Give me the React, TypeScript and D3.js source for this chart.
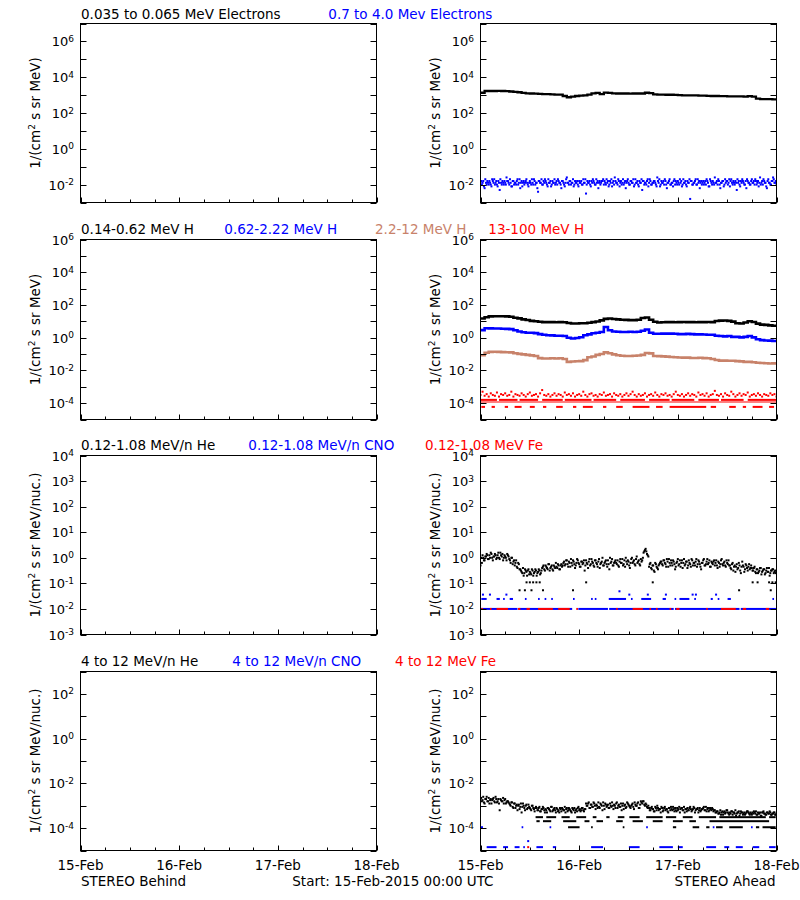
import React from "react";
import * as d3 from "d3";

const FONT = "DejaVu Sans";
const START = Date.UTC(2015, 1, 15);
const END = Date.UTC(2015, 1, 18);
const HOUR = 3600 * 1000;

const BLACK = "#000000";
const BLUE = "#0000ff";
const BROWN = "#c8826a";
const RED = "#ff0000";

// ---- text ----
const xTickLabels = ["15-Feb", "16-Feb", "17-Feb", "18-Feb"];
const row1Titles = ["0.035 to 0.065 MeV Electrons", "0.7 to 4.0 Mev Electrons"];
const row2Titles = ["0.14-0.62 MeV H", "0.62-2.22 MeV H", "2.2-12 MeV H", "13-100 MeV H"];
const row3Titles = ["0.12-1.08 MeV/n He", "0.12-1.08 MeV/n CNO", "0.12-1.08 MeV Fe"];
const row4Titles = ["4 to 12 MeV/n He", "4 to 12 MeV/n CNO", "4 to 12 MeV Fe"];
const footer = ["STEREO Behind", "Start: 15-Feb-2015 00:00 UTC", "STEREO Ahead"];

// ---- data (log10 flux) ----
// 0.035-0.065 MeV electrons, hourly
const eLowLog = [
  3.13, 3.23, 3.23, 3.23, 3.24, 3.23, 3.22, 3.2, 3.18, 3.16,
  3.12, 3.1, 3.09, 3.08, 3.07, 3.06, 3.05, 3.04, 3.03, 3.03,
  2.95, 2.88, 2.92, 2.95, 2.97, 2.99, 3.03, 3.1, 3.12, 3.06,
  3.14, 3.12, 3.1, 3.09, 3.09, 3.09, 3.08, 3.09, 3.09, 3.09,
  3.13, 3.11, 3.04, 3.03, 3.03, 3.02, 3.02, 3.01, 3.0, 2.99,
  2.99, 2.98, 2.98, 2.97, 2.97, 2.96, 2.95, 2.95, 2.94, 2.94,
  2.93, 2.93, 2.93, 2.93, 2.92, 2.94, 2.92, 2.8, 2.78, 2.78,
  2.77, 2.76, 2.76,
];
// 0.7-4.0 MeV electrons, 20-minute samples (A at :00, B offset 10 min)
const eHighLogA = [
  -1.9, -2.0, -1.8, -2.2, -1.9, -1.8, -2.0, -1.9, -2.1, -1.8, -1.7, -1.9, -2.0, -1.8, -2.3, -1.9, -1.8, -2.0,
  -1.9, -1.6, -1.8, -2.0, -1.9, -2.1, -1.8, -1.9, -2.0, -1.7, -1.9, -2.2, -1.8, -1.9, -2.0, -1.8, -1.9, -2.1,
  -1.8, -2.0, -1.9, -1.7, -2.0, -1.9, -2.4, -1.8, -1.9, -2.0, -1.8, -1.7, -1.9, -2.1, -1.9, -1.8, -2.0, -1.9,
  -1.7, -1.9, -2.0, -1.8, -1.9, -2.2, -1.8, -2.0, -1.9, -1.6, -1.9, -1.8, -2.0, -1.9, -2.1, -1.8, -1.9, -2.0,
  -1.8, -1.9, -2.0, -1.7, -1.9, -2.5, -1.8, -1.9, -2.0, -1.8, -1.7, -1.9, -2.0, -1.9, -2.2, -1.8, -1.9, -1.8,
  -2.0, -1.9, -1.7, -1.8, -2.0, -1.9, -2.1, -1.8, -1.6, -1.9, -2.0, -1.8, -1.9, -2.0, -1.7, -1.9, -2.2, -1.8,
  -1.9, -2.0, -1.8, -1.9, -2.1, -1.7, -1.9, -2.0, -1.8, -1.9, -2.3, -1.8, -1.9, -2.0, -1.7, -1.9, -1.8, -2.0,
  -1.9, -1.8, -2.0, -1.6, -1.9, -2.1, -1.8, -1.9, -2.0, -1.8, -2.2, -1.9, -1.7, -2.0, -1.9, -1.8, -2.0, -1.9,
  -1.8, -2.0, -1.9, -2.1, -1.7, -1.9, -2.0, -1.8, -1.9, -2.8, -1.8, -2.0, -1.9, -1.7, -2.0, -1.9, -2.2, -1.8,
  -1.9, -2.0, -1.8, -1.7, -1.9, -2.1, -1.8, -2.0, -1.9, -1.6, -1.9, -2.0, -1.8, -2.2, -1.9, -1.8, -2.0, -1.9,
  -1.8, -1.9, -2.1, -1.7, -2.0, -1.9, -1.8, -2.3, -1.9, -2.0, -1.8, -1.7, -1.9, -2.0, -2.2, -1.8, -1.9, -2.0,
  -1.7, -1.9, -2.0, -1.8, -1.9, -2.1, -1.6, -1.9, -2.0, -1.8, -1.9, -2.2, -1.7, -1.9, -2.0, -1.8, -1.7, -1.9,
  -2.0,
];
const eHighLogB = [
  -1.8, -1.9, -2.1, -1.7, -2.0, -1.9, -1.8, -2.0, -1.7, -1.9, -2.0, -1.8, -2.1, -1.9, -1.7, -2.0, -1.9, -1.8,
  -2.0, -1.8, -1.9, -1.7, -2.1, -1.8, -2.0, -1.9, -1.8, -2.0, -1.7, -1.9, -2.1, -1.8, -1.9, -1.7, -2.0, -1.9,
  -1.9, -1.7, -2.0, -1.8, -1.9, -2.2, -1.8, -1.9, -1.7, -2.0, -1.9, -1.8, -2.0, -1.7, -1.9, -2.1, -1.8, -1.9,
  -2.0, -1.8, -1.7, -1.9, -2.0, -1.8, -1.9, -2.1, -1.7, -1.9, -2.0, -1.8, -1.9, -1.7, -2.0, -1.9, -1.8, -2.1,
  -1.9, -1.8, -2.0, -1.9, -1.7, -2.0, -1.9, -1.8, -2.1, -1.9, -1.8, -2.0, -1.7, -1.8, -1.9, -2.0, -1.8, -1.7,
  -1.8, -2.0, -1.9, -2.1, -1.8, -1.7, -1.9, -2.0, -1.8, -1.9, -1.7, -2.1, -1.8, -1.9, -2.0, -1.8, -1.9, -1.7,
  -2.0, -1.8, -1.9, -1.7, -2.0, -1.9, -1.8, -2.1, -1.9, -1.7, -1.8, -2.0, -1.9, -1.8, -2.1, -1.7, -2.0, -1.9,
  -1.8, -1.9, -2.1, -1.8, -1.7, -2.0, -1.9, -1.8, -1.7, -2.0, -1.9, -1.8, -2.0, -1.9, -2.1, -1.7, -1.8, -2.0,
  -1.9, -1.7, -1.8, -2.0, -1.9, -1.8, -2.1, -1.9, -1.7, -1.8, -2.0, -1.9, -1.8, -2.0, -1.7, -1.8, -1.9, -2.0,
  -1.8, -1.9, -2.0, -1.8, -2.1, -1.7, -1.9, -1.8, -2.0, -1.9, -1.8, -1.7, -2.0, -1.9, -1.8, -2.1, -1.7, -1.8,
  -2.0, -1.7, -1.8, -1.9, -1.8, -2.0, -1.9, -1.7, -1.8, -2.1, -1.9, -1.8, -2.0, -1.8, -1.7, -1.9, -2.0, -1.8,
  -1.9, -1.8, -1.7, -2.0, -1.8, -1.9, -2.0, -1.8, -1.7, -1.9, -2.1, -1.8, -1.9, -2.0, -1.8, -1.6, -1.9, -1.8,
];

// protons, hourly
const hLowLog = [
  1.17, 1.25, 1.3, 1.31, 1.31, 1.31, 1.3, 1.28, 1.22, 1.18,
  1.12, 1.08, 1.03, 1.0, 0.97, 0.95, 0.95, 0.95, 0.94, 0.95,
  0.94, 0.9, 0.87, 0.87, 0.88, 0.88, 0.91, 0.95, 0.99, 1.06,
  1.15, 1.17, 1.14, 1.12, 1.1, 1.09, 1.07, 1.07, 1.1, 1.2,
  1.23, 1.1, 0.97, 0.93, 0.94, 0.95, 0.95, 0.94, 0.95, 0.96,
  0.95, 0.95, 0.94, 0.95, 0.95, 0.96, 0.95, 1.02, 1.04, 1.05,
  1.03, 0.98, 0.88, 0.87, 0.93, 1.0, 0.96, 0.86, 0.8, 0.78,
  0.75, 0.73, 0.71,
];
const hMidLog = [
  0.46, 0.58, 0.57, 0.56, 0.56, 0.55, 0.54, 0.52, 0.45, 0.38,
  0.33, 0.3, 0.3, 0.28, 0.22, 0.18, 0.15, 0.14, 0.12, 0.12,
  0.1, 0.0, -0.05, -0.02, 0.03, 0.15, 0.2, 0.27, 0.3, 0.35,
  0.65, 0.45, 0.38, 0.36, 0.35, 0.35, 0.36, 0.35, 0.36, 0.42,
  0.5, 0.3, 0.24, 0.24, 0.25, 0.25, 0.25, 0.24, 0.22, 0.22,
  0.23, 0.22, 0.2, 0.2, 0.19, 0.18, 0.18, 0.12, 0.1, 0.08,
  0.1, 0.05, 0.05, 0.02, 0.05, 0.1, 0.02, -0.1, -0.15, -0.17,
  -0.18, -0.2, -0.2,
];
const hHighLog = [
  -1.07, -0.92, -0.87, -0.86, -0.87, -0.88, -0.89, -0.9, -0.95, -0.99,
  -1.02, -1.05, -1.08, -1.12, -1.25, -1.27, -1.27, -1.26, -1.27, -1.26,
  -1.3, -1.48, -1.46, -1.44, -1.43, -1.37, -1.2, -1.15, -1.05, -1.0,
  -0.9, -0.95, -1.02, -1.07, -1.1, -1.12, -1.12, -1.1, -1.09, -1.05,
  -0.94, -0.96, -1.12, -1.13, -1.14, -1.16, -1.18, -1.2, -1.21, -1.22,
  -1.22, -1.24, -1.24, -1.23, -1.25, -1.26, -1.3, -1.36, -1.4, -1.4,
  -1.41, -1.41, -1.43, -1.45, -1.48, -1.48, -1.5, -1.53, -1.55, -1.56,
  -1.58, -1.57, -1.55,
];
// 13-100 MeV H, 30-minute scatter
const hTopLog = [
  -3.5, -3.3, -3.55, -3.45, -3.6, -3.4, -3.5, -3.55, -3.35, -3.6, -3.45, -3.5, -3.4, -3.55, -3.5, -3.3, -3.6, -3.45, -3.5, -3.55,
  -3.4, -3.5, -3.6, -3.45, -3.35, -3.55, -3.5, -3.45, -3.6, -3.4, -3.2, -3.5, -3.55, -3.45, -3.6, -3.5, -3.4, -3.55, -3.45, -3.5,
  -3.6, -3.35, -3.5, -3.45, -3.55, -3.4, -3.6, -3.5, -3.45, -3.55, -3.3, -3.5, -3.6, -3.45, -3.4, -3.55, -3.5, -3.6, -3.45, -3.5,
  -3.35, -3.55, -3.5, -3.45, -3.6, -3.4, -3.5, -3.55, -3.45, -3.6, -3.5, -3.4, -3.55, -3.45, -3.3, -3.5, -3.6, -3.45, -3.55, -3.5,
  -3.4, -3.6, -3.5, -3.45, -3.55, -3.35, -3.5, -3.6, -3.45, -3.5, -3.4, -3.55, -3.5, -3.6, -3.45, -3.3, -3.5, -3.55, -3.45, -3.6,
  -3.5, -3.4, -3.55, -3.45, -3.5, -3.6, -3.35, -3.5, -3.45, -3.55, -3.4, -3.6, -3.5, -3.45, -3.25, -3.5, -3.55, -3.45, -3.6, -3.4,
  -3.5, -3.55, -3.3, -3.45, -3.6, -3.5, -3.4, -3.55, -3.45, -3.5, -3.35, -3.6, -3.5, -3.45, -3.55, -3.4, -3.5, -3.6, -3.45, -3.5,
  -3.55, -3.4, -3.5, -3.45, -3.6,
];
// 13-100 MeV H quantized rows: [startHour, endHour]
const hTopRowLevels = [-3.8, -3.93, -4.23];
const hTopRow1 = [[0, 4], [4.5, 9], [9.5, 14], [15, 20], [20.5, 27], [27.5, 33], [34, 40], [41, 46], [46.5, 52], [53, 58], [58.5, 64], [65, 72]];
const hTopRow2 = [[0, 72]];
const hTopRow3 = [[0.2, 1.1], [2.7, 3.5], [5.9, 6.7], [8.3, 10], [12, 13.2], [15.2, 16], [18.4, 20], [22.5, 23.3], [24.9, 27.3], [29.8, 30.6], [33, 34.6], [37, 41.1], [42.7, 44.3], [46, 54.9], [56, 57.3], [60.5, 62.1], [63.8, 64.6], [66.2, 68.6], [70.2, 71.4]];

// 0.12-1.08 MeV/n He, 20-minute samples (A at :00, B offset 10 min)
const heLowLogA = [
  -0.3, -0.2, 0.0, -0.1, 0.05, 0.1, -0.05, 0.0, 0.15, -0.1, 0.05, 0.1, 0.0, 0.2, -0.05, 0.1, 0.15, 0.0, 0.05, -0.1, 0.1,
  -0.05, -0.2, 0.0, -0.15, -0.3, -0.1, -0.4, -0.25,
  -0.45, -0.55, -0.4, -0.6, -0.5, -0.7, -0.45, -0.55, -0.65, -0.5, -0.6, -0.45, -0.7, -0.55, -0.5, -0.6,
  -0.4, -0.3, -0.5, -0.35, -0.45, -0.25, -0.4, -0.3, -0.5, -0.35, -0.2, -0.4, -0.3, -0.45, -0.25,
  -0.3, -0.15, -0.25, -0.1, -0.35, -0.2, -0.05, -0.3, -0.15, -0.4, -0.2, -0.1, -0.25, -0.35, -0.15, -0.2, -0.5, -0.1, -0.25, -0.15,
  -0.3, -0.05, -0.2, -0.35, -0.1, -0.25, -0.15, -0.4, -0.2, 0.0, -0.3, -0.15, -0.25, -0.1, -0.45, -0.2, -0.05, -0.3, -0.15, -0.2,
  -0.1, -0.35, -0.05, -0.2, -0.3, -0.1, 0.0, -0.25, -0.15, -0.4, -0.05, -0.2, -0.1, -0.3, 0.05, -0.15, -0.25, -0.05, -0.1,
  0.2, 0.3, 0.25, 0.1,
  -0.35, -0.2, -0.45, -0.3, -0.55, -0.25, -0.4, -0.3, -0.2,
  -0.15, -0.3, -0.1, -0.25, -0.05, -0.35, -0.2, -0.1, -0.3, -0.15, -0.45, -0.2, -0.05, -0.25, -0.35, -0.1, -0.2, -0.3, -0.15, -0.4,
  -0.1, -0.25, -0.05, -0.3, -0.2, -0.15, -0.35, -0.1, -0.25, -0.45, -0.2, -0.05, -0.3, -0.15, -0.25, -0.1, -0.35, -0.2, -0.15, -0.3,
  -0.1, -0.4, -0.2, -0.25, -0.05, -0.3, -0.15, -0.35, -0.2, -0.1,
  -0.3, -0.45, -0.2, -0.35, -0.55, -0.25, -0.4, -0.3, -0.6, -0.15, -0.35, -0.45, -0.3, -0.5, -0.25, -0.4,
  -0.4, -0.5, -0.35, -0.6, -0.45, -0.55, -0.4, -0.65, -0.5, -0.45, -0.6, -0.4, -0.55, -0.7, -0.5, -0.45, -0.6, -0.5, -0.55,
];
const heLowLogB = [
  0.0, 0.1, -0.1, 0.05, 0.15, -0.05, 0.1, 0.2, 0.0, 0.05, 0.15, -0.05, 0.1, 0.0, 0.2, 0.05, -0.1, 0.1, 0.0, 0.15, 0.05,
  -0.1, 0.0, -0.25, -0.1, -0.2, -0.35, -0.2, -0.45,
  -0.5, -0.6, -0.7, -0.45, -0.55, -0.5, -0.65, -0.6, -0.45, -0.7, -0.55, -0.5, -0.6, -0.45, -0.65, -0.5,
  -0.35, -0.45, -0.3, -0.4, -0.25, -0.5, -0.35, -0.45, -0.3, -0.4, -0.35, -0.25, -0.45, -0.3, -0.35,
  -0.2, -0.3, -0.1, -0.25, -0.15, -0.35, -0.2, -0.1, -0.25, -0.3, -0.05, -0.2, -0.35, -0.15, -0.25, -0.1, -0.3, -0.2, -0.4, -0.05,
  -0.25, -0.15, -0.3, -0.1, -0.2, -0.35, -0.05, -0.25, -0.15, -0.3, -0.2, -0.1, -0.35, -0.25, 0.0, -0.15, -0.3, -0.2, -0.1, -0.25,
  -0.3, -0.15, -0.2, -0.05, -0.25, -0.35, -0.15, -0.1, -0.3, -0.2, 0.0, -0.15, -0.25, -0.05, -0.2, -0.1, -0.3, -0.15, 0.0,
  0.25, 0.35, 0.15, 0.05,
  -0.25, -0.4, -0.3, -0.5, -0.2, -0.35, -0.45, -0.25, -0.15,
  -0.25, -0.1, -0.2, -0.35, -0.15, -0.05, -0.3, -0.2, -0.1, -0.25, -0.35, -0.15, -0.3, -0.1, -0.2, -0.4, -0.05, -0.25, -0.15, -0.3,
  -0.2, -0.35, -0.1, -0.2, -0.3, -0.05, -0.25, -0.15, -0.35, -0.2, -0.1, -0.3, -0.25, -0.05, -0.2, -0.35, -0.15, -0.25, -0.1, -0.2,
  -0.3, -0.15, -0.35, -0.1, -0.25, -0.2, -0.3, -0.1, -0.25, -0.3,
  -0.4, -0.25, -0.5, -0.3, -0.35, -0.45, -0.2, -0.5, -0.35, -0.3, -0.55, -0.25, -0.4, -0.35, -0.45, -0.3,
  -0.5, -0.4, -0.55, -0.45, -0.6, -0.5, -0.4, -0.55, -0.45, -0.65, -0.5, -0.55, -0.4, -0.6, -0.5, -0.45, -0.55, -0.6,
];
// sparse low He points [hour, log10]
const heLowSparse = [
  [9.5, -1.27], [10.8, -1.27], [12.4, -1.27], [15.2, -1.27], [22.5, -1.27], [62.9, -1.27], [70.6, -1.27],
  [11.2, -0.96], [12, -0.96], [12.8, -0.96], [13.6, -0.96], [14.4, -0.96], [25.7, -0.96], [41.9, -0.96],
  [66.2, -0.96], [67.4, -0.96], [70.2, -0.96], [71, -0.96], [71.8, -0.96],
];
// 0.12-1.08 MeV/n CNO rows and points
const cnoLowLevels = [-2.0, -1.61];
const cnoLowRow1 = [[0, 9], [9.3, 22.3], [23.8, 31], [31.3, 47], [47.3, 63], [63.3, 72]];
const cnoLowRow2 = [[0.2, 1.5], [3.9, 4.7], [5.5, 5.9], [7.1, 7.9], [10.8, 11.2], [14, 14.4], [15.6, 16], [17.2, 17.6], [22.5, 22.9], [26.9, 27.3], [27.8, 28.2], [31.2, 35.4], [36.6, 37], [39.1, 41.5], [44.3, 45.1], [47.2, 47.6], [48.4, 50.8], [52, 52.4], [56, 56.5], [57.7, 58.1], [60.1, 60.9], [71, 71.4]];
const cnoLowSparse = [[0.6, -1.44], [2.3, -1.44], [6.3, -1.44], [33.8, -1.31], [36.2, -1.44], [40.7, -1.44], [45.1, -1.44], [51.6, -1.44], [52.4, -1.44], [57.3, -1.44]];
// 0.12-1.08 MeV Fe row
const feLowLevel = -2.0;
const feLowRow = [[0.2, 0.6], [2.3, 2.7], [3.9, 6.7], [9.1, 9.7], [11.2, 12], [14, 17.6], [18.9, 21.7], [23.3, 23.7], [33, 33.4], [37, 39.5], [41.1, 41.5], [42.7, 43.1], [46, 46.4], [47.6, 48.4], [54.9, 55.3], [58.5, 62.1], [63.8, 64.6], [69.4, 70.2]];

// 4-12 MeV/n He, 20-minute samples (A at :00, B offset 10 min)
const heHighLogA = [
  -2.7, -2.8, -2.6, -2.9, -2.7, -2.8, -2.65, -2.75, -2.9, -2.7, -2.8, -2.6, -2.85, -2.7, -3.2, -2.75, -2.8, -2.9, -2.7, -2.85, -2.8,
  -2.9, -3.0, -2.85, -3.1, -2.9, -3.0, -3.2, -2.95, -3.05, -3.3, -2.9, -3.1, -3.0, -3.15, -2.95, -3.1, -3.2, -3.0, -3.15, -3.1,
  -3.1, -3.2, -3.05, -3.25, -3.15, -3.1, -3.3, -3.2, -3.1, -3.15, -3.25, -3.05, -3.2, -3.1, -3.3, -3.15, -3.2, -3.1,
  -3.25, -3.15, -3.2, -3.3, -3.1, -3.2, -3.15, -3.25, -3.1, -3.2, -3.3, -3.15, -3.1, -3.2, -3.25, -3.1, -3.2, -3.15,
  -2.9, -3.0, -2.85, -3.1, -2.95, -3.05, -2.9, -3.15, -3.0, -2.85, -3.1, -2.95, -3.2, -3.0, -2.9, -3.05, -2.95, -3.1, -3.0, -2.85,
  -3.15, -3.0, -2.9, -3.1, -2.95, -3.05, -3.2, -2.9, -3.0, -3.1, -2.85, -2.95, -3.05, -3.0, -2.9, -3.15, -2.95, -3.0, -2.85, -3.1,
  -2.8, -2.9, -2.8, -3.0, -2.95, -3.1,
  -3.1, -3.2, -3.05, -3.15, -3.25, -3.1, -3.0, -3.2, -3.15, -3.05, -3.25, -3.1, -3.2, -3.15, -3.3, -3.1, -3.05, -3.2, -3.15, -3.1,
  -3.25, -3.2, -3.05, -3.15, -3.1, -3.2, -3.3, -3.15, -3.1, -3.2, -3.05, -3.25, -3.15, -3.1, -3.2, -3.15, -3.3, -3.1, -3.2, -3.15,
  -3.05, -3.2, -3.25, -3.1, -3.2, -3.15, -3.1, -3.25,
  -3.2, -3.3, -3.25, -3.35, -3.2, -3.3, -3.4, -3.25, -3.3, -3.2, -3.35, -3.3, -3.25, -3.4, -3.3, -3.2, -3.35, -3.3, -3.45, -3.25,
  -3.3, -3.35, -3.4, -3.3, -3.25, -3.35, -3.3, -3.4, -3.35, -3.3, -3.25, -3.4, -3.35, -3.3, -3.45, -3.3, -3.35, -3.4, -3.3, -3.35,
  -3.25, -3.4, -3.35, -3.3, -3.4, -3.35,
];
const heHighLogB = [
  -2.65, -2.75, -2.85, -2.7, -2.6, -2.8, -2.9, -2.7, -2.75, -2.65, -2.85, -2.7, -2.8, -2.9, -2.7, -2.8, -2.65, -2.75, -2.9, -2.8, -2.85,
  -2.95, -2.85, -3.05, -2.9, -3.1, -2.95, -3.0, -3.15, -2.9, -3.05, -3.0, -3.2, -2.95, -3.1, -3.05, -3.15, -3.0, -3.1, -3.25, -3.05,
  -3.2, -3.1, -3.25, -3.15, -3.05, -3.2, -3.15, -3.3, -3.1, -3.2, -3.05, -3.25, -3.15, -3.2, -3.1, -3.25, -3.3, -3.15,
  -3.1, -3.2, -3.05, -3.15, -3.25, -3.1, -3.2, -3.3, -3.15, -3.1, -3.2, -3.25, -3.05, -3.15, -3.2, -3.1, -3.25, -3.15,
  -3.0, -2.9, -3.1, -2.95, -3.05, -2.85, -3.0, -2.95, -3.1, -3.05, -2.9, -3.0, -2.85, -3.15, -2.95, -3.0, -3.1, -2.9, -3.05, -3.0,
  -2.95, -3.1, -2.85, -3.0, -3.05, -2.9, -3.0, -3.15, -2.95, -3.05, -2.9, -3.0, -3.1, -2.95, -3.05, -2.85, -3.0, -2.9, -3.1, -2.95,
  -2.85, -2.8, -2.95, -2.9, -3.05, -3.0,
  -3.2, -3.1, -3.15, -3.25, -3.05, -3.2, -3.1, -3.15, -3.3, -3.1, -3.2, -3.05, -3.15, -3.25, -3.1, -3.2, -3.15, -3.05, -3.25, -3.2,
  -3.1, -3.15, -3.3, -3.1, -3.2, -3.05, -3.15, -3.25, -3.2, -3.1, -3.15, -3.2, -3.05, -3.3, -3.15, -3.1, -3.2, -3.25, -3.15, -3.1,
  -3.2, -3.05, -3.15, -3.25, -3.1, -3.2, -3.15, -3.2,
  -3.3, -3.25, -3.35, -3.3, -3.4, -3.25, -3.3, -3.35, -3.2, -3.3, -3.4, -3.35, -3.25, -3.3, -3.35, -3.45, -3.3, -3.25, -3.35, -3.3,
  -3.4, -3.3, -3.35, -3.25, -3.3, -3.4, -3.35, -3.3, -3.25, -3.35, -3.4, -3.3, -3.35, -3.45, -3.3, -3.25, -3.35, -3.4, -3.3, -3.35,
  -3.3, -3.4, -3.35, -3.3, -3.4,
];
const heHighLevels = [-3.51, -3.69, -3.96];
const heHighRow1 = [[13.4, 15.2], [16, 18.4], [19.7, 21.7], [23.3, 25.7], [27.3, 28.2], [30.6, 31.4], [33.4, 35], [36.2, 38.7], [40.3, 44.3], [45.1, 47.6], [49.2, 51.6], [53.1, 57.3], [58.1, 69.4], [70.2, 71.8]];
const heHighRow2 = [[13.6, 14.4], [15.2, 17.2], [20.1, 23.3], [25.3, 26.5], [28.2, 29.8], [33, 34.6], [37, 39.5], [41.9, 44.3], [46.8, 49.2], [50.8, 52.4], [55.7, 70.2]];
const heHighRow3 = [[21.3, 24.1], [26.9, 27.3], [34.6, 35], [46.8, 47.6], [51.6, 53.2], [54.9, 55.7], [57.3, 58.9], [60.5, 63.8], [67, 67.8], [68.6, 71.8]];
// 4-12 MeV/n CNO
const cnoHighLevels = [-3.96, -4.85];
const cnoHighRow1 = [[0, 0.6], [10, 10.4], [16.8, 17.2], [40.3, 40.7], [56.5, 56.9], [65.8, 66.2]];
const cnoHighRow2 = [[1.5, 3.9], [5.5, 6.7], [8.3, 9.5], [10.4, 10.8], [13.6, 15.2], [17.6, 18.4], [26.9, 29.8], [36.1, 38.7], [43.5, 46.8], [48, 49.2], [54.9, 57.3], [59.3, 60.5], [62.1, 63.8], [66.2, 67.8], [70.2, 71.8]];
const cnoHighSparse = [[11.6, -4.58]];
// 4-12 MeV Fe
const feHighSparse = [[11.6, -4.85]];

// ---- layout ----
const COLS = [
  { x0: 80.5, x1: 376.5 },
  { x0: 480.5, x1: 776.5 },
];
const ROWS = [
  { y0: 23.5, y1: 202.5, dom: [-3, 7], labeled: [-2, 0, 2, 4, 6], unit: "MeV", titleY: 18.5 },
  { y0: 239.5, y1: 419.5, dom: [-5, 6], labeled: [-4, -2, 0, 2, 4, 6], unit: "MeV", titleY: 234 },
  { y0: 455.5, y1: 634.5, dom: [-3, 4], labeled: [-3, -2, -1, 0, 1, 2, 3, 4], unit: "MeV/nuc.", titleY: 450 },
  { y0: 671.5, y1: 850.5, dom: [-5, 3], labeled: [-4, -2, 0, 2], unit: "MeV/nuc.", titleY: 665.7 },
];
const TITLE_X = [
  [81, 328.3],
  [81, 224.3, 375, 488.3],
  [81, 248.3, 425],
  [81, 232.3, 395],
];
const TITLES = [row1Titles, row2Titles, row3Titles, row4Titles];
const TITLE_COLORS = [
  [BLACK, BLUE],
  [BLACK, BLUE, BROWN, RED],
  [BLACK, BLUE, RED],
  [BLACK, BLUE, RED],
];

type Sc = { xs: d3.ScaleTime<number, number>; ys: d3.ScaleLogarithmic<number, number> };

const hourDate = (h: number) => new Date(START + h * HOUR);

function Dots({ sc, values, stepMin, offsetMin = 0, color }: { sc: Sc; values: number[]; stepMin: number; offsetMin?: number; color: string }) {
  return (
    <g fill={color}>
      {values.map((v, i) => (
        <rect key={i} x={sc.xs(hourDate((i * stepMin + offsetMin) / 60)) - 1} y={sc.ys(Math.pow(10, v)) - 1} width={2} height={2} />
      ))}
    </g>
  );
}
function Points({ sc, pts, color }: { sc: Sc; pts: number[][]; color: string }) {
  return (
    <g fill={color}>
      {pts.map((p, i) => (
        <rect key={i} x={sc.xs(hourDate(p[0])) - 1} y={sc.ys(Math.pow(10, p[1])) - 1} width={2} height={2} />
      ))}
    </g>
  );
}
function Row({ sc, segs, level, color, h = 2 }: { sc: Sc; segs: number[][]; level: number; color: string; h?: number }) {
  const y = sc.ys(Math.pow(10, level));
  return (
    <g fill={color}>
      {segs.map((s, i) => {
        const a = sc.xs(hourDate(s[0]));
        const b = sc.xs(hourDate(s[1]));
        return <rect key={i} x={a} y={y - h / 2} width={Math.max(1.5, b - a)} height={h} />;
      })}
    </g>
  );
}
function Line({ sc, values, color, width }: { sc: Sc; values: number[]; color: string; width: number }) {
  const gen = d3
    .line<number>()
    .x((_, i) => sc.xs(hourDate(i)))
    .y((v) => sc.ys(Math.pow(10, v)))
    .curve(d3.curveStepAfter);
  return <path d={gen(values) || ""} fill="none" stroke={color} strokeWidth={width} />;
}

function Frame({ col, row, showX }: { col: any; row: any; showX: boolean }) {
  const xs = d3.scaleUtc().domain([new Date(START), new Date(END)]).range([col.x0, col.x1]);
  const ys = d3.scaleLog().domain([Math.pow(10, row.dom[0]), Math.pow(10, row.dom[1])]).range([row.y1, row.y0]);
  const exps = d3.range(row.dom[0], row.dom[1] + 1);
  const ticks6h = xs.ticks(d3.utcHour.every(6) as any);
  const days = xs.ticks(d3.utcDay.every(1) as any);
  const cy = (row.y0 + row.y1) / 2;
  const lx = col.x0 - 41;
  return (
    <g>
      {exps.map((e) => {
        const y = Math.round(ys(Math.pow(10, e))) + 0.5;
        return (
          <g key={e}>
            <line x1={col.x0} x2={col.x0 + 6} y1={y} y2={y} stroke={BLACK} />
            <line x1={col.x1 - 6} x2={col.x1} y1={y} y2={y} stroke={BLACK} />
          </g>
        );
      })}
      {row.labeled.map((e: number) => {
        const y = ys(Math.pow(10, e));
        return (
          <text key={e} x={col.x0 - 6.5} y={y + 5} textAnchor="end" fontSize={13}>
            10
            <tspan dy={-4.5} fontSize={9}>{String(e)}</tspan>
          </text>
        );
      })}
      {ticks6h.map((t, i) => {
        const x = Math.round(xs(t)) + 0.5;
        const major = t.getUTCHours() === 0;
        return <line key={i} x1={x} x2={x} y1={row.y1} y2={row.y1 - (major ? 5 : 3)} stroke={BLACK} />;
      })}
      {showX &&
        days.map((d, i) => (
          <text key={i} x={xs(d)} y={870} textAnchor="middle" fontSize={13.5}>
            {xTickLabels[i]}
          </text>
        ))}
      <text transform={`translate(${lx},${cy}) rotate(-90)`} textAnchor="middle" fontSize={13.5}>
        1/(cm
        <tspan dy={-5} fontSize={9}>2</tspan>
        <tspan dy={5}>{` s sr ${row.unit})`}</tspan>
      </text>
      <rect x={col.x0} y={row.y0} width={col.x1 - col.x0} height={row.y1 - row.y0} fill="none" stroke={BLACK} />
    </g>
  );
}

function RightData({ ri }: { ri: number }) {
  const col = COLS[1];
  const row = ROWS[ri];
  const xs = d3.scaleUtc().domain([new Date(START), new Date(END)]).range([col.x0, col.x1]);
  const ys = d3.scaleLog().domain([Math.pow(10, row.dom[0]), Math.pow(10, row.dom[1])]).range([row.y1, row.y0]);
  const sc = { xs, ys };
  if (ri === 0)
    return (
      <g>
        <Line sc={sc} values={eLowLog} color={BLACK} width={2.3} />
        <Dots sc={sc} values={eHighLogA} stepMin={20} color={BLUE} />
        <Dots sc={sc} values={eHighLogB} stepMin={20} offsetMin={10} color={BLUE} />
      </g>
    );
  if (ri === 1)
    return (
      <g>
        <Line sc={sc} values={hLowLog} color={BLACK} width={2.6} />
        <Line sc={sc} values={hMidLog} color={BLUE} width={2.6} />
        <Line sc={sc} values={hHighLog} color={BROWN} width={2.6} />
        <Dots sc={sc} values={hTopLog} stepMin={30} color={RED} />
        <Row sc={sc} segs={hTopRow1} level={hTopRowLevels[0]} color={RED} />
        <Row sc={sc} segs={hTopRow2} level={hTopRowLevels[1]} color={RED} h={1} />
        <Row sc={sc} segs={hTopRow3} level={hTopRowLevels[2]} color={RED} />
      </g>
    );
  if (ri === 2)
    return (
      <g>
        <Dots sc={sc} values={heLowLogA} stepMin={20} color={BLACK} />
        <Dots sc={sc} values={heLowLogB} stepMin={20} offsetMin={10} color={BLACK} />
        <Points sc={sc} pts={heLowSparse} color={BLACK} />
        <Row sc={sc} segs={cnoLowRow1} level={cnoLowLevels[0]} color={BLUE} />
        <Row sc={sc} segs={cnoLowRow2} level={cnoLowLevels[1]} color={BLUE} />
        <Points sc={sc} pts={cnoLowSparse} color={BLUE} />
        <Row sc={sc} segs={feLowRow} level={feLowLevel} color={RED} />
      </g>
    );
  return (
    <g>
      <Dots sc={sc} values={heHighLogA} stepMin={20} color={BLACK} />
      <Dots sc={sc} values={heHighLogB} stepMin={20} offsetMin={10} color={BLACK} />
      <Row sc={sc} segs={heHighRow1} level={heHighLevels[0]} color={BLACK} />
      <Row sc={sc} segs={heHighRow2} level={heHighLevels[1]} color={BLACK} />
      <Row sc={sc} segs={heHighRow3} level={heHighLevels[2]} color={BLACK} />
      <Row sc={sc} segs={cnoHighRow1} level={cnoHighLevels[0]} color={BLUE} />
      <Row sc={sc} segs={cnoHighRow2} level={cnoHighLevels[1]} color={BLUE} />
      <Points sc={sc} pts={cnoHighSparse} color={BLUE} />
      <Points sc={sc} pts={feHighSparse} color={RED} />
    </g>
  );
}

export default function App() {
  return (
    <svg
      width={800}
      height={900}
      style={{ position: "absolute", left: 0, top: 0, background: "#fff" }}
      fontFamily={FONT}
    >
      <rect width={800} height={900} fill="#fff" />
      <defs>
        {ROWS.map((r, i) => (
          <clipPath id={`clip${i}`} key={i}>
            <rect x={COLS[1].x0} y={r.y0} width={COLS[1].x1 - COLS[1].x0} height={r.y1 - r.y0} />
          </clipPath>
        ))}
      </defs>
      {ROWS.map((row, ri) => (
        <g key={ri}>
          {TITLES[ri].map((t, ti) => (
            <text key={ti} x={TITLE_X[ri][ti]} y={row.titleY} fontSize={13.5} fill={TITLE_COLORS[ri][ti]}>
              {t}
            </text>
          ))}
          <g clipPath={`url(#clip${ri})`}>
            <RightData ri={ri} />
          </g>
          {COLS.map((col, ci) => (
            <Frame key={ci} col={col} row={row} showX={ri === 3} />
          ))}
        </g>
      ))}
      <text x={81} y={885.7} fontSize={13.5}>{footer[0]}</text>
      <text x={292.3} y={885.7} fontSize={13.5}>{footer[1]}</text>
      <text x={775.7} y={885.7} fontSize={13.5} textAnchor="end">{footer[2]}</text>
    </svg>
  );
}
